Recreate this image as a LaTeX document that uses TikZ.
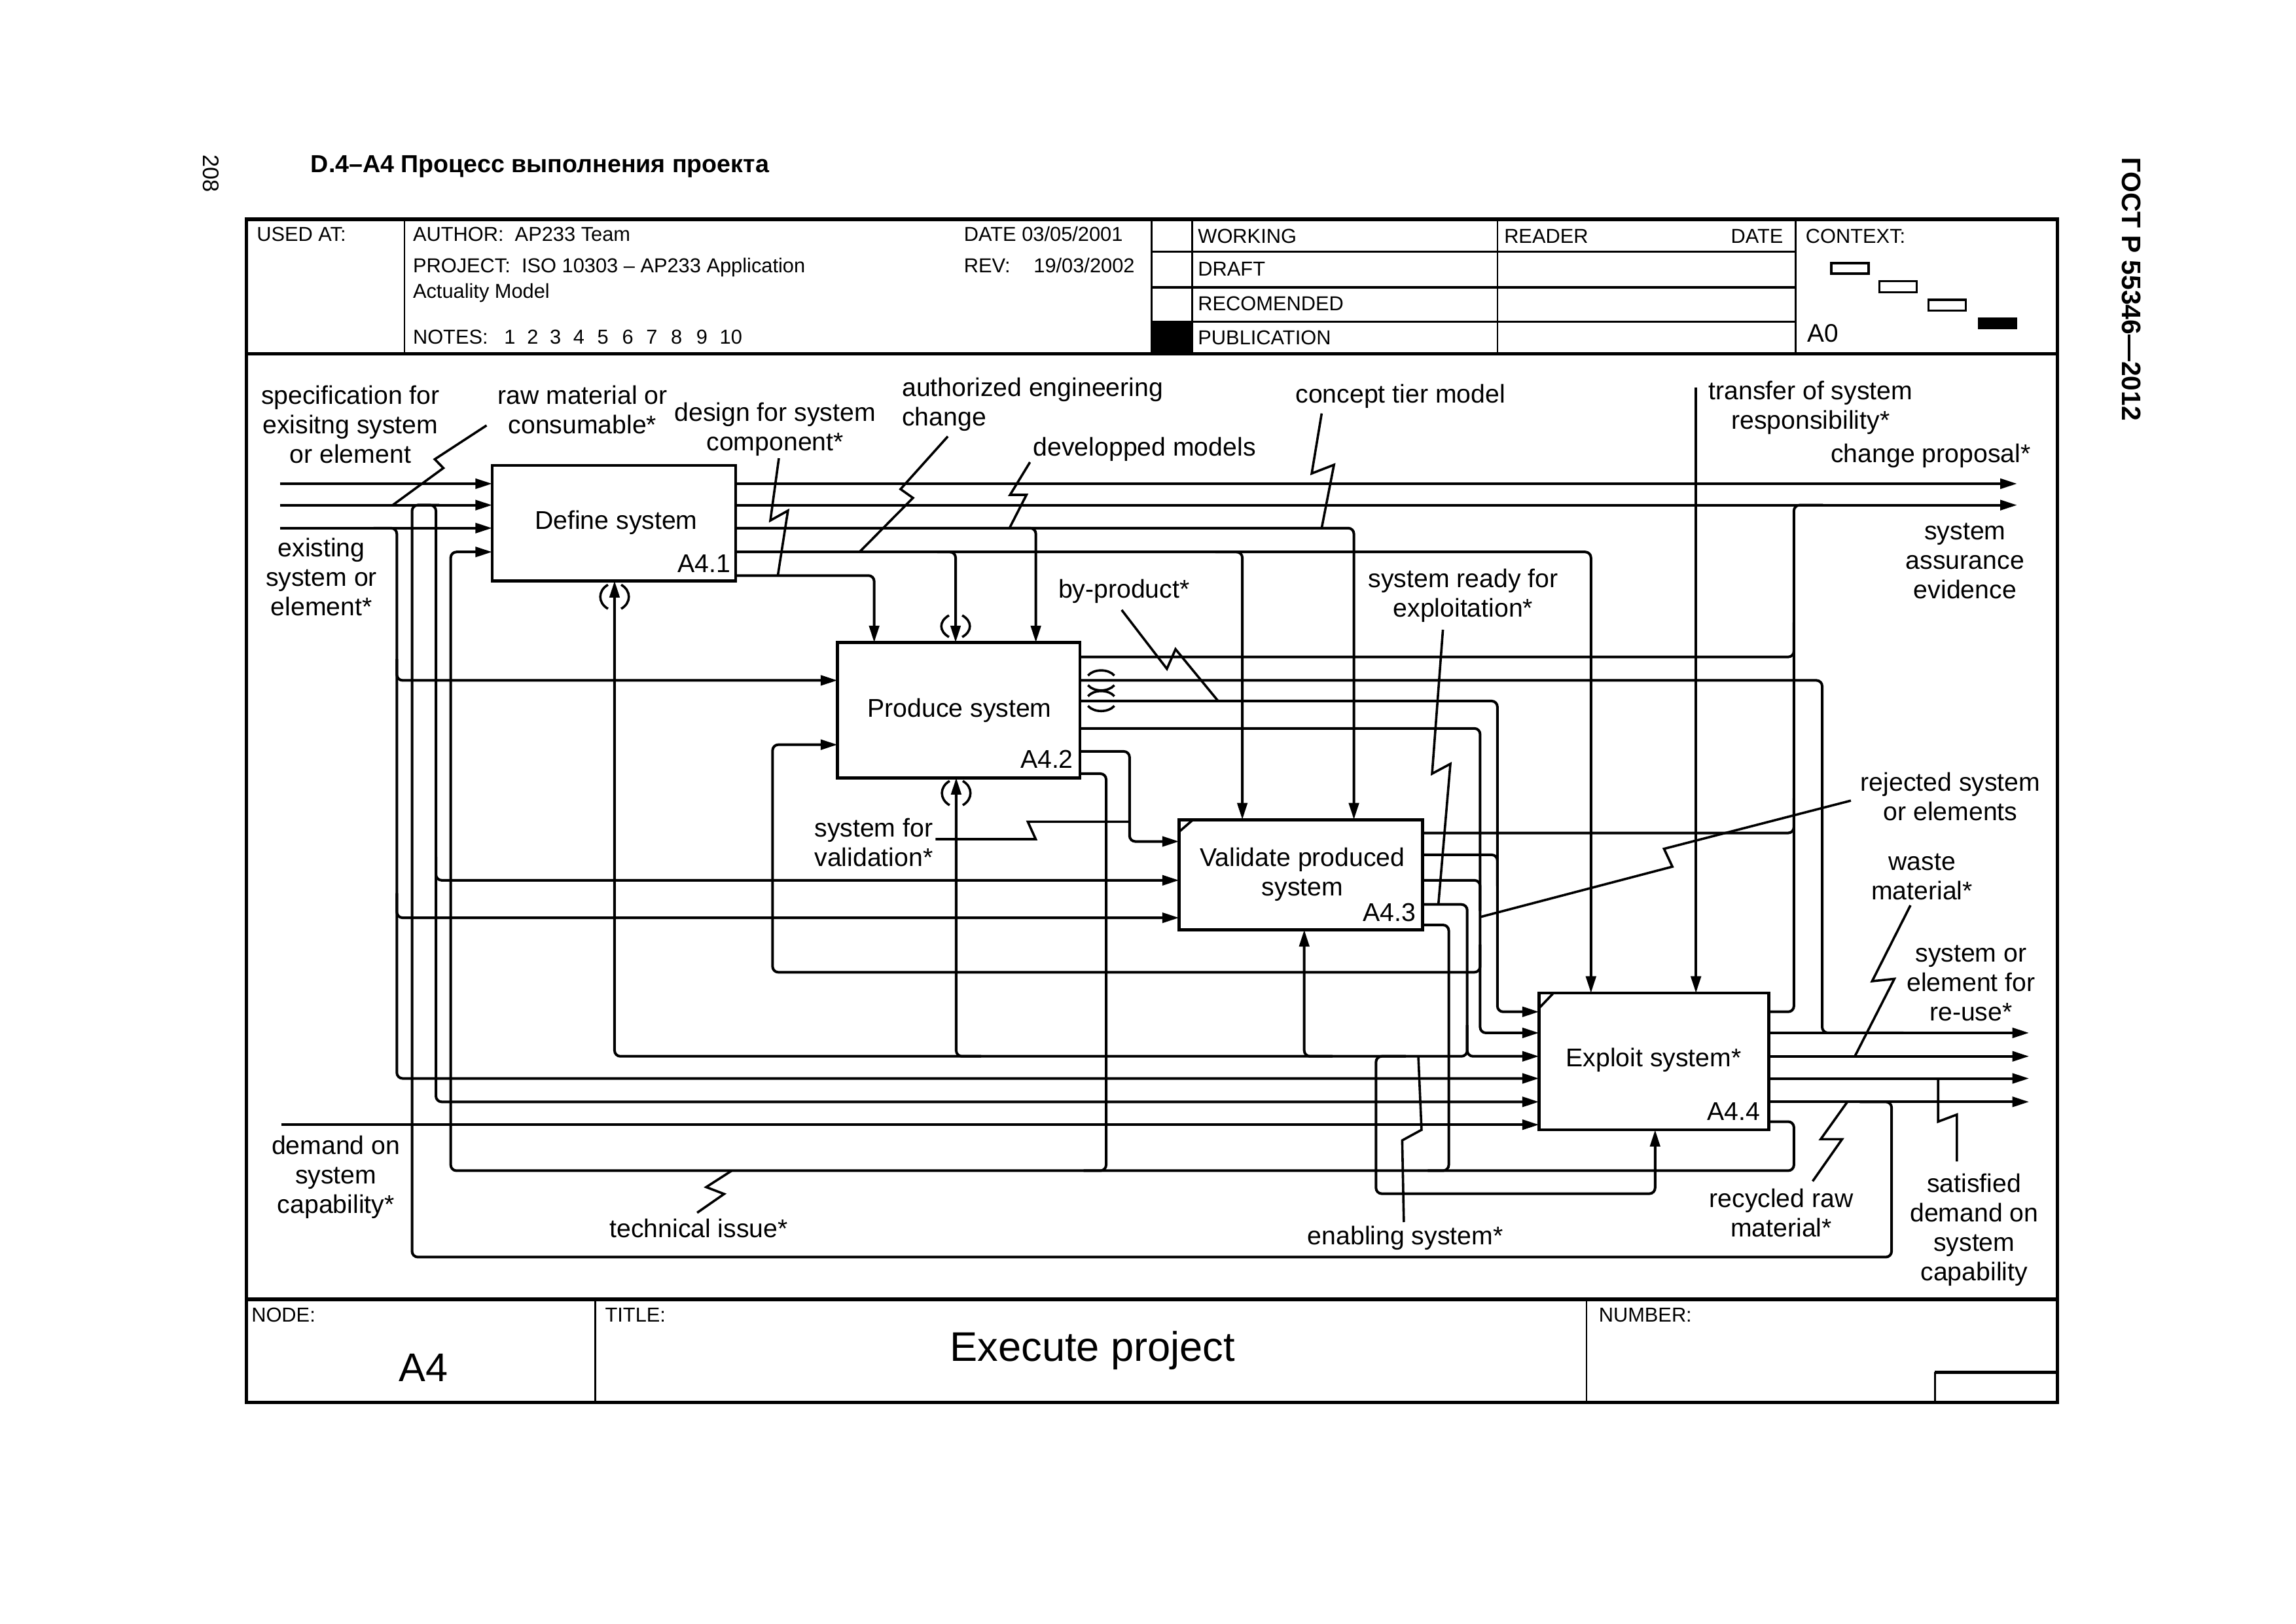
\documentclass[tikz,border=0pt]{standalone}
\usepackage{fontspec}
\setmainfont{Liberation Sans}
\usetikzlibrary{arrows.meta}
\newcommand\vtunnel[3]{%
  \draw[sqline] ({#1-4.5},#2) .. controls ({#1-11.5},{#2+4}) and ({#1-11.5},{#3-4}) .. ({#1-4.5},#3);
  \draw[sqline] ({#1+4.5},#2) .. controls ({#1+11.5},{#2+4}) and ({#1+11.5},{#3-4}) .. ({#1+4.5},#3);}
\newcommand\htunnel[3]{%
  \draw[sqline] (#2,{#1-3.3}) .. controls ({#2+4},{#1-8}) and ({#3-4},{#1-8}) .. (#3,{#1-3.3});
  \draw[sqline] (#2,{#1+3.3}) .. controls ({#2+4},{#1+8}) and ({#3-4},{#1+8}) .. (#3,{#1+3.3});}
\begin{document}
\begin{tikzpicture}[x=0.5593pt,y=-0.5593pt,
  conn/.style={line width=1.0pt,rounded corners=2.2pt},
  arr/.style={conn,-{Triangle[length=6.4pt,width=3.8pt]}},
  sqline/.style={line width=0.9pt},
  procbox/.style={draw,line width=1.15pt,anchor=north west,outer sep=0pt,inner sep=0pt},
  lab/.style={font=\fontsize{9.8}{11.25}\selectfont,inner sep=0pt,align=center},
  hd/.style={font=\fontsize{7.7}{9}\selectfont,inner sep=0pt,anchor=base west},
  frameline/.style={line width=1.3pt},
  cellline/.style={line width=0.7pt},
]
\useasboundingbox (0,0) rectangle (1568,1108.6);

% ---------------- frame ----------------
\draw[frameline] (168.3,149.7) rectangle (1404.9,957.6);
\draw[frameline] (168.3,241.7) -- (1404.9,241.7);
\draw[frameline] (168.3,887.2) -- (1404.9,887.2);
\draw[cellline] (276.2,149.7) -- (276.2,241.7);
\draw[cellline] (786.5,149.7) -- (786.5,241.7);
\draw[cellline] (814.3,149.7) -- (814.3,241.7);
\draw[cellline] (1022.7,149.7) -- (1022.7,241.7);
\draw[cellline] (1226.1,149.7) -- (1226.1,241.7);
\draw[cellline] (786.5,171.8) -- (1226.1,171.8);
\draw[line width=1.0pt] (786.5,196.2) -- (1226.1,196.2);
\draw[cellline] (786.5,219.8) -- (1226.1,219.8);
\fill (786.5,219.8) rectangle (814.3,241.7);
\draw[line width=0.9pt] (1250.5,179.8) rectangle (1276,186.8);
\draw[line width=0.9pt] (1283.5,192) rectangle (1309,199.5);
\draw[line width=0.9pt] (1317,204.7) rectangle (1342.5,212);
\fill (1350.9,217) rectangle (1377.6,224.8);
\draw[cellline] (406.5,887.2) -- (406.5,957.6);
\draw[cellline] (1083.5,887.2) -- (1083.5,957.6);
\draw[cellline] (1321.3,936.9) -- (1321.3,957.6);
\draw[frameline] (1321.3,936.9) -- (1404.9,936.9);

% ---------------- page texts ----------------
\node[font=\fontsize{8.6}{10}\selectfont,rotate=-90,inner sep=0pt] (pgnum) at (144,118.5) {208};
\node[font=\bfseries\fontsize{9.4}{11}\selectfont,inner sep=0pt,anchor=base west] (doctitle) at (211.9,117.6) {D.4–A4 Процесс выполнения проекта};
\node[font=\bfseries\fontsize{10.2}{12}\selectfont,rotate=-90,inner sep=0pt] (gost) at (1455.4,197.4) {ГОСТ Р 55346—2012};

% ---------------- header texts ----------------
\node[hd] (usedat) at (175,164.6) {USED AT:};
\node[hd] (author) at (281.7,164.6) {AUTHOR:\ \ AP233 Team};
\node[hd] (date1) at (658,164.6) {DATE 03/05/2001};
\node[hd] (project) at (281.7,186.2) {PROJECT:\ \ ISO 10303 – AP233 Application};
\node[hd] (project2) at (281.7,203.4) {Actuality Model};
\node[hd] (rev) at (658,186.2) {REV:};
\node[hd] (revdate) at (705.6,186.2) {19/03/2002};
\node[hd] (notes) at (281.7,234.7) {NOTES:};
\foreach \xx/\nn [count=\ii] in {344/1,359.6/2,375.1/3,391.1/4,407.6/5,424.5/6,441/7,457.8/8,475.2/9,491.2/10}
  \node[hd] (note\ii) at (\xx,234.7) {\nn};
\node[hd] (working) at (817.8,166.1) {WORKING};
\node[hd] (draft) at (817.8,188.5) {DRAFT};
\node[hd] (recom) at (817.8,212.3) {RECOMENDED};
\node[hd] (publ) at (817.8,235.4) {PUBLICATION};
\node[hd] (reader) at (1026.9,166.1) {READER};
\node[hd,anchor=base east] (date2) at (1218.1,166.1) {DATE};
\node[hd] (context) at (1232.8,166.1) {CONTEXT:};
\node[font=\fontsize{9.7}{11}\selectfont,inner sep=0pt,anchor=base west] (azero) at (1233.8,233.6) {A0};
\node[hd] (nodelbl) at (171.4,902.6) {NODE:};
\node[hd] (titlelbl) at (412.9,902.6) {TITLE:};
\node[hd] (numberlbl) at (1091.5,902.6) {NUMBER:};
\node[font=\fontsize{15.3}{18}\selectfont,inner sep=0pt,anchor=base] (nodeval) at (289.2,943.2) {A4};
\node[font=\fontsize{15.8}{19}\selectfont,inner sep=0pt,anchor=base] (titleval) at (746.2,929.4) {Execute project};

% ---------------- boxes ----------------
\node[procbox,minimum width=93.01pt,minimum height=44.07pt] (A1) at (336.1,317.8) {};
\node[procbox,minimum width=92.62pt,minimum height=51.68pt] (A2) at (571.9,438.7) {};
\node[procbox,minimum width=93.07pt,minimum height=42.06pt] (A3) at (805.2,559.7) {};
\node[procbox,minimum width=87.75pt,minimum height=52.24pt] (A4) at (1051,678.1) {};
\draw[sqline] (805.2,568) -- (814.8,559.7);
\draw[sqline] (1051,688.5) -- (1060.9,678.1);

\node[lab,anchor=base] (t1) at (420.8,361.3) {Define system};
\node[lab,anchor=base east] (n1) at (499.1,390.7) {A4.1};
\node[lab,anchor=base] (t2) at (655.3,489.5) {Produce system};
\node[lab,anchor=base east] (n2) at (733.3,524.5) {A4.2};
\node[lab,anchor=north] (t3) at (889.5,577.1) {\strut Validate produced\\system};
\node[lab,anchor=base east] (n3) at (967.3,629.2) {A4.3};
\node[lab,anchor=base] (t4) at (1129.3,728.4) {Exploit system*};
\node[lab,anchor=base east] (n4) at (1202.4,765.2) {A4.4};

% ---------------- free ends ----------------
\coordinate (inSpec) at (191.2,330.3);
\coordinate (inRaw) at (191.2,344.9);
\coordinate (inExist) at (191.2,360.6);
\coordinate (inDemand) at (192,768);
\coordinate (inTransfer) at (1158.2,264.5);
\coordinate (outChange) at (1377.5,330.3);
\coordinate (outAssur) at (1377.5,344.9);
\coordinate (outReuse) at (1385.7,705.3);
\coordinate (outWaste) at (1385.7,721.3);
\coordinate (outSatis) at (1385.7,736.4);
\coordinate (outRecyc) at (1385.7,752.4);

% ---------------- external arrows ----------------
\draw[arr] (inSpec) -- (A1.west |- inSpec);
\draw[arr] (inRaw) -- (A1.west |- inRaw);
\draw[arr] (inExist) -- (A1.west |- inExist);
\draw[arr] (inDemand) -- (A4.west |- inDemand);
\draw[arr] (inTransfer) -- (inTransfer |- A4.north);
\draw[arr] (A1.east |- outChange) -- (outChange);
\draw[arr] (A1.east |- outAssur) -- (outAssur);

% ---------------- Define outputs ----------------
\draw[arr] (A1.east |- 0,393) -| (597,0 |- A2.north);
\draw[arr] (A1.east |- 0,376.9) -| (1086.5,0 |- A4.north);
\draw[arr] (640,376.9) -| (652.6,0 |- A2.north);
\draw[arr] (830,376.9) -| (848.4,0 |- A3.north);
\draw[arr] (A1.east |- 0,360.6) -| (924.6,0 |- A3.north);
\draw[arr] (690,360.6) -| (707.4,0 |- A2.north);

% ---------------- Produce outputs ----------------
\draw[conn] (A2.east |- 0,448.6) -| (1225.1,425);
\draw[conn] (A2.east |- 0,464.6) -| (1244.4,705.3) -- (1300,705.3);
\draw[arr] (A2.east |- 0,478.7) -| (1022.6,690.9) -- (A4.west |- 0,690.9);
\draw[arr] (A2.east |- 0,497.4) -| (1010.8,705.3) -- (A4.west |- 0,705.3);
\draw[arr] (A2.east |- 0,513.1) -| (771.4,574.6) -- (A3.west |- 0,574.6);
\draw[conn] (A2.east |- 0,528.3) -| (755.4,799.4) -- (740,799.4);

% ---------------- Validate outputs ----------------
\draw[conn] (A3.east |- 0,568.8) -| (1225.1,545);
\draw[conn] (A3.east |- 0,583.7) -| (1022.6,605);
\draw[conn] (A3.east |- 0,601.1) -| (1010.8,622);
\draw[arr] (A3.east |- 0,617.6) -| (1002,721.3) -- (419.7,721.3) -- (419.7,0 |- A1.south);
\draw[arr] (1002,700) |- (A4.west |- 0,721.3);
\draw[conn] (A3.east |- 0,631.6) -| (989.4,799.4) -- (975,799.4);

% ---------------- Exploit outputs ----------------
\draw[conn] (A4.east |- 0,690.9) -| (1225.1,344.9) -- (1245,344.9);
\draw[arr] (A4.east |- outReuse) -- (outReuse);
\draw[arr] (A4.east |- outWaste) -- (outWaste);
\draw[arr] (A4.east |- outSatis) -- (outSatis);
\draw[arr] (A4.east |- outRecyc) -- (outRecyc);
\draw[arr] (A4.east |- 0,765.9) -- (1225.1,765.9) -- (1225.1,799.4) -- (307.8,799.4) -- (307.8,376.9) -- (A1.west |- 0,376.9);
\draw[conn] (1270,752.4) -| (1291.8,858.4) -| (281.4,344.9) -- (300,344.9);

% ---------------- left branches ----------------
\draw[arr] (285,344.9) -| (297.7,752.4) -- (A4.west |- 0,752.4);
\draw[arr] (297.7,585) |- (A3.west |- 0,601.1);
\draw[arr] (255,360.6) -| (271,736.4) -- (A4.west |- 0,736.4);
\draw[arr] (271,450) |- (A2.west |- 0,464.6);
\draw[arr] (271,610) |- (A3.west |- 0,626.7);
\draw[arr] (1010.8,645) |- (527.6,663.9) |- (A2.west |- 0,508.5);

% ---------------- mechanisms ----------------
\draw[arr] (670,721.3) -| (653,0 |- A2.south);
\draw[arr] (910,721.3) -| (890.7,0 |- A3.south);
\draw[arr] (960,721.3) -| (939.7,815.1) -| (1130.3,0 |- A4.south);

% ---------------- tunnels ----------------
\vtunnel{419.7}{399.3}{415.7}
\vtunnel{652.6}{420.2}{435}
\vtunnel{653}{533.3}{549.8}
\htunnel{464.6}{743}{761}
\htunnel{478.7}{743}{761}

% ---------------- squiggles ----------------
\draw[sqline] (332.3,290.5) -- (296.9,313.6) -- (302.8,319.6) -- (268.2,344.9);
\draw[sqline] (531.9,312.9) -- (526.1,355.4) -- (538.1,348.7) -- (531.2,393);
\draw[sqline] (647.3,298) -- (615,334) -- (623.5,340) -- (587,376.9);
\draw[sqline] (703.4,315.6) -- (689.8,337.9) -- (701,337.9) -- (689.4,360.6);
\draw[sqline] (902.6,282.3) -- (895.8,323.3) -- (911,317.4) -- (902.6,360.6);
\draw[sqline] (766,416.5) -- (796.9,456.7) -- (802.8,443.3) -- (831.9,478.7);
\draw[sqline] (985.4,430) -- (978,528.3) -- (990.5,521.6) -- (982.3,617.6);
\draw[sqline] (638.9,573) -- (707.3,573) -- (701.9,561.1) -- (771.4,561.1);
\draw[sqline] (1264,546.7) -- (1136.4,579.6) -- (1142.1,591.8) -- (1010.8,626.2);
\draw[sqline] (1304.7,618.2) -- (1278.5,670) -- (1293.7,668.4) -- (1266.7,721.3);
\draw[sqline] (1323.6,736.4) -- (1323.6,765.9) -- (1336.4,761.1) -- (1336.4,793.1);
\draw[sqline] (1261.6,752.4) -- (1243.4,777.9) -- (1258,777.9) -- (1237.9,806.6);
\draw[sqline] (958.7,834.5) -- (957.6,778.7) -- (970.8,771.5) -- (968.6,721.3);
\draw[sqline] (499.7,799.4) -- (482.3,810.6) -- (494.5,815.3) -- (476.1,828.1);

% ---------------- labels ----------------
\node[lab,anchor=north] (Lspec) at (239.3,261.5) {\strut specification for\\exisitng system\\or element};
\node[lab,anchor=north] (Lraw) at (397.8,261.5) {\strut raw material or\\consumable*};
\node[lab,anchor=north] (Ldesign) at (529.3,273.4) {\strut design for system\\component*};
\node[lab,anchor=north west,align=left] (Lauth) at (615.7,256.3) {\strut authorized engineering\\change};
\node[lab,anchor=base west] (Ldevel) at (705.3,311.4) {developped models};
\node[lab,anchor=base] (Lconcept) at (956.4,274.9) {concept tier model};
\node[lab,anchor=north] (Ltransfer) at (1236.5,258.4) {\strut transfer of system\\responsibility*};
\node[lab,anchor=base west] (Lchange) at (1250,315.9) {change proposal*};
\node[lab,anchor=north] (Lassur) at (1342,353.9) {\strut system\\assurance\\evidence};
\node[lab,anchor=north] (Lexist) at (219.5,365.9) {\strut existing\\system or\\element*};
\node[lab,anchor=base] (Lbyprod) at (767.6,408.2) {by-product*};
\node[lab,anchor=north] (Lready) at (999.2,386.9) {\strut system ready for\\exploitation*};
\node[lab,anchor=north west,align=left] (Lsysval) at (555.9,557.2) {\strut system for\\validation*};
\node[lab,anchor=north] (Lreject) at (1332,525.9) {\strut rejected system\\or elements};
\node[lab,anchor=north] (Lwaste) at (1312.6,579.6) {\strut waste\\material*};
\node[lab,anchor=north] (Lreuse) at (1346,642.4) {\strut system or\\element for\\re-use*};
\node[lab,anchor=north] (Ldemand) at (229.4,773.9) {\strut demand on\\system\\capability*};
\node[lab,anchor=base] (Ltech) at (477.2,845) {technical issue*};
\node[lab,anchor=base] (Lenab) at (959.7,849.7) {enabling system*};
\node[lab,anchor=north] (Lrecyc) at (1216.5,810.1) {\strut recycled raw\\material*};
\node[lab,anchor=north] (Lsatis) at (1348.2,799.7) {\strut satisfied\\demand on\\system\\capability};

\end{tikzpicture}
\end{document}
